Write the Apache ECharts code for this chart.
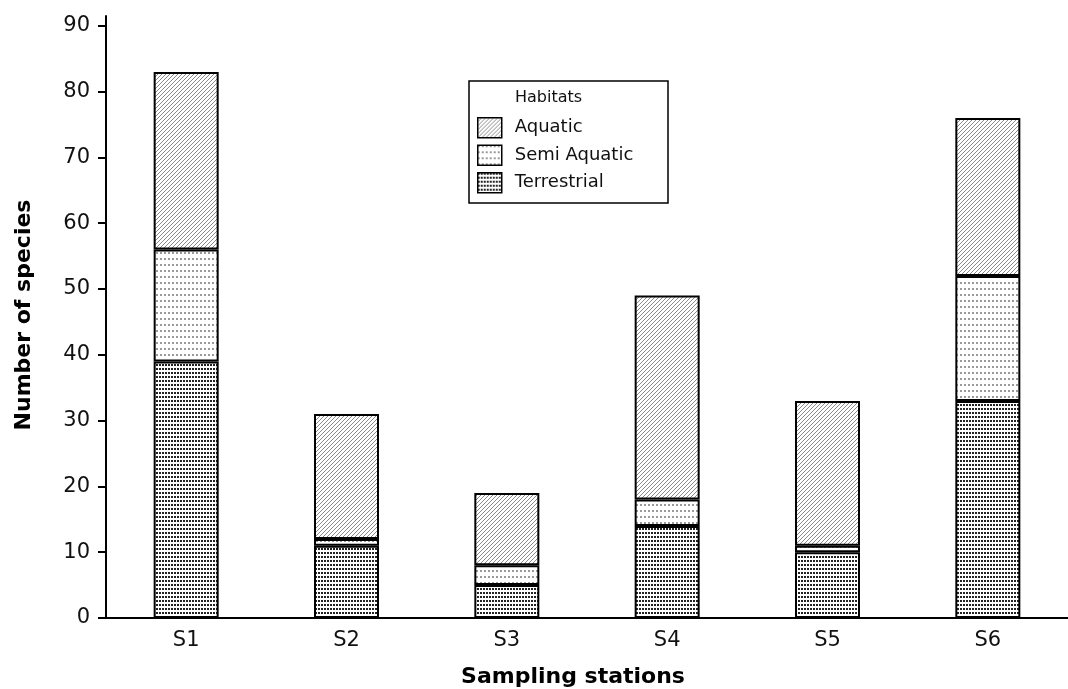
<!DOCTYPE html>
<html><head><meta charset="utf-8">
<script src="https://cdn.jsdelivr.net/npm/echarts@6/dist/echarts.min.js"></script>
<style>html,body{margin:0;padding:0;background:#fff}#c{width:1068px;height:689px}</style>
</head><body><div id="c"></div>
<script>
const categories = ['S1','S2','S3','S4','S5','S6'];
const terrestrial = [39, 11, 5, 14, 10, 33];
const semiAquatic = [17, 1, 3, 4, 1, 19];
const aquatic = [27, 19, 11, 31, 22, 24];
const yTicks = [0,10,20,30,40,50,60,70,80,90];

function makePattern(w, h, draw){
  const c = document.createElement('canvas'); c.width = w; c.height = h;
  const g = c.getContext('2d'); g.fillStyle = '#fff'; g.fillRect(0,0,w,h); draw(g);
  return {image: c, repeat: 'repeat'};
}
const hatch = makePattern(4,4,g=>{g.fillStyle='#8a8a8a';for(let i=0;i<4;i++)g.fillRect(i,3-i,1,1);});
const semiDots = makePattern(4,6,g=>{g.fillStyle='#9a9a9a';g.fillRect(0,0,2,2);});
const terrDots = makePattern(3,4,g=>{g.fillStyle='#222';g.fillRect(0,0,2,2);});

const font = 'DejaVu Sans';
const chart = echarts.init(document.getElementById('c'), null, {renderer:'canvas'});
const bs = (name, data, pat) => ({
  name, type:'bar', stack:'t', data, barWidth:65,
  itemStyle:{color:pat, borderColor:'#000', borderWidth:2},
  emphasis:{disabled:true}, animation:false
});
chart.setOption({
  animation:false,
  grid:{left:106, top:16, width:972, height:602},
  xAxis:{type:'category', data:categories,
    axisLine:{lineStyle:{color:'#000', width:2}},
    axisTick:{alignWithLabel:true, length:7, lineStyle:{color:'#000', width:2}},
    axisLabel:{color:'#111', fontFamily:font, fontSize:21, margin:12}},
  yAxis:{type:'value', min:0, max:91.5, interval:10,
    splitLine:{show:false},
    axisLine:{show:true, lineStyle:{color:'#000', width:2}},
    axisTick:{show:true, length:8, customValues:yTicks, lineStyle:{color:'#000', width:2}},
    axisLabel:{color:'#111', fontFamily:font, fontSize:21, margin:16, customValues:yTicks}},
  legend:{orient:'vertical', left:469, top:81, padding:[36,8,8,8], itemGap:6,
    itemWidth:24, itemHeight:20, icon:'rect',
    data:['Aquatic','Semi Aquatic','Terrestrial'],
    textStyle:{fontFamily:font, fontSize:18, color:'#111', padding:[0,0,0,8]},
    itemStyle:{borderColor:'#000', borderWidth:1.5}},
  graphic:[
    {type:'rect', shape:{x:469, y:81, width:199, height:122}, style:{fill:null, stroke:'#000', lineWidth:1.5}, z:100},
    {type:'text', x:515, y:98, style:{text:'Habitats', font:'16px "DejaVu Sans"', fill:'#111', textVerticalAlign:'middle'}},
    {type:'text', x:573, y:677, style:{text:'Sampling stations', font:'bold 22px "DejaVu Sans"', fill:'#000', textAlign:'center', textVerticalAlign:'middle'}},
    {type:'text', x:24, y:315, rotation:Math.PI/2, style:{text:'Number of species', font:'bold 22px "DejaVu Sans"', fill:'#000', textAlign:'center', textVerticalAlign:'middle'}}
  ],
  series:[bs('Terrestrial', terrestrial, terrDots), bs('Semi Aquatic', semiAquatic, semiDots), bs('Aquatic', aquatic, hatch)]
});
</script></body></html>
